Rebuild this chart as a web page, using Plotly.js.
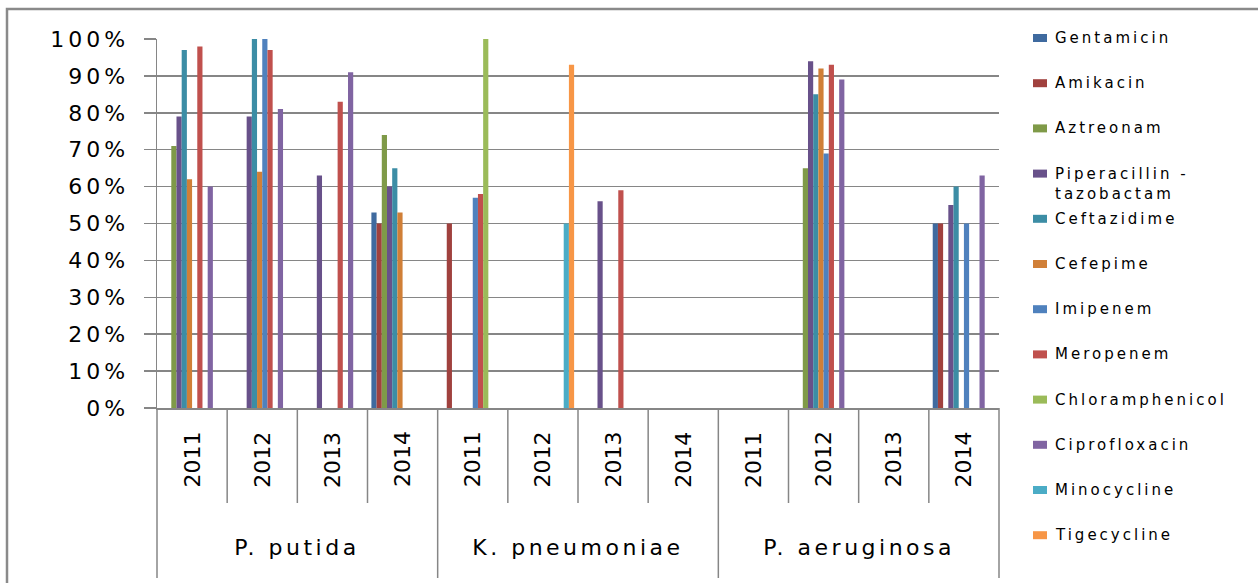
<!DOCTYPE html>
<html>
<head>
<meta charset="utf-8">
<script src="https://cdn.plot.ly/plotly-3.0.1.min.js"></script>
<style>
  html, body { margin: 0; padding: 0; background: #ffffff; }
  #chart { width: 1258px; height: 583px; }
  .ytick text { letter-spacing: 4px; }
</style>
</head>
<body>
<div id="chart"></div>
<script>
// ---- data ----
const species = ["P. putida","P. putida","P. putida","P. putida",
                 "K. pneumoniae","K. pneumoniae","K. pneumoniae","K. pneumoniae",
                 "P. aeruginosa","P. aeruginosa","P. aeruginosa","P. aeruginosa"];
const years = ["2011","2012","2013","2014","2011","2012","2013","2014","2011","2012","2013","2014"];

const seriesNames = ["Gentamicin","Amikacin","Aztreonam","Piperacillin -<br>tazobactam",
  "Ceftazidime","Cefepime","Imipenem","Meropenem","Chloramphenicol",
  "Ciprofloxacin","Minocycline","Tigecycline"];

const gentamicin      = [null,null,null,53,  null,null,null,null, null,null,null,50];
const amikacin        = [null,null,null,50,  50,null,null,null,   null,null,null,50];
const aztreonam       = [71,null,null,74,    null,null,null,null, null,65,null,null];
const piperacillin    = [79,79,63,60,        null,null,56,null,   null,94,null,55];
const ceftazidime     = [97,100,null,65,     null,null,null,null, null,85,null,60];
const cefepime        = [62,64,null,53,      null,null,null,null, null,92,null,null];
const imipenem        = [null,100,null,null, 57,null,null,null,   null,69,null,50];
const meropenem       = [98,97,83,null,      58,null,59,null,     null,93,null,null];
const chloramphenicol = [null,null,null,null,100,null,null,null,  null,null,null,null];
const ciprofloxacin   = [60,81,91,null,      null,null,null,null, null,89,null,63];
const minocycline     = [null,null,null,null,null,50,null,null,   null,null,null,null];
const tigecycline     = [null,null,null,null,null,93,null,null,   null,null,null,null];

const seriesValues = [gentamicin, amikacin, aztreonam, piperacillin, ceftazidime, cefepime,
  imipenem, meropenem, chloramphenicol, ciprofloxacin, minocycline, tigecycline];

const colors = ["#3F6A9F","#A0413E","#7F9A48","#68518A","#3C8DA5","#D07F37",
  "#4F81BD","#C0504D","#9BBB59","#8064A2","#4BACC6","#F79646"];

// ---- geometry (pixels) ----
const W = 1258, H = 583;
const L = 157, R = 999, T = 39, B = 408;
const pw = R - L, ph = B - T;
const px2x = p => (p - L) / pw;
const px2y = p => (B - p) / ph;

const traces = seriesNames.map((nm, i) => ({
  type: "bar",
  name: nm.replace("<br>", " "),
  x: [species, years],
  y: seriesValues[i],
  marker: { color: colors[i], line: { width: 0 } },
  showlegend: false,
  hoverinfo: "x+y+name"
}));

const grey = "#868686";
const shapes = [];
const annotations = [];
const spacing = [];

// outer chart border
shapes.push({ type: "rect", xref: "paper", yref: "paper",
  x0: px2x(7), x1: px2x(1264), y0: px2y(590), y1: px2y(9),
  line: { color: "#8a8a8a", width: 2.5 }, fillcolor: "rgba(0,0,0,0)", layer: "below" });

// category boundary ticks (inner level) and group dividers
const n = years.length;
for (let i = 0; i <= n; i++) {
  const isGroup = (i === 0 || i === n || species[i] !== species[i - 1]);
  shapes.push({ type: "line", xref: "paper", yref: "paper",
    x0: i / n, x1: i / n, y0: 0, y1: px2y(isGroup ? 578 : 503),
    line: { color: grey, width: 1.5 } });
}

// axis category labels (years rotated, species below)
years.forEach((yr, i) => {
  annotations.push({ xref: "paper", yref: "paper", x: (i + 0.5) / n, y: px2y(459.5),
    xanchor: "center", yanchor: "middle", textangle: -90, showarrow: false,
    text: yr, font: { family: "DejaVu Sans", size: 22, color: "#000" } });
  spacing.push(0);
});
let start = 0;
for (let i = 1; i <= n; i++) {
  if (i === n || species[i] !== species[i - 1]) {
    annotations.push({ xref: "paper", yref: "paper", x: (start + i) / 2 / n, y: px2y(547),
      xanchor: "center", yanchor: "middle", showarrow: false,
      text: species[start], font: { family: "DejaVu Sans", size: 22, color: "#000" } });
    spacing.push(3.5);
    start = i;
  }
}

// legend (manual, to match spacing)
seriesNames.forEach((nm, i) => {
  const yc = 38 + 45.2 * i;
  shapes.push({ type: "rect", xref: "paper", yref: "paper",
    x0: px2x(1033), x1: px2x(1047), y0: px2y(yc + 4), y1: px2y(yc - 4),
    line: { width: 0 }, fillcolor: colors[i] });
  const lines = nm.split("<br>").length;
  annotations.push({ xref: "paper", yref: "paper", x: px2x(1053), y: px2y(yc),
    xanchor: "left", yanchor: "middle", align: "left", showarrow: false,
    yshift: -(lines - 1) * 10.5,
    text: nm, font: { family: "DejaVu Sans", size: 15, color: "#000" } });
  spacing.push(3);
});

const layout = {
  width: W, height: H,
  margin: { l: L, r: W - R, t: T, b: H - B, pad: 0 },
  paper_bgcolor: "#ffffff", plot_bgcolor: "#ffffff",
  barmode: "group", bargap: 0.111, bargroupgap: 0,
  showlegend: false,
  font: { family: "DejaVu Sans", color: "#000" },
  xaxis: {
    type: "multicategory",
    showline: true, linecolor: grey, linewidth: 1.5,
    ticks: "", showdividers: false, showgrid: false,
    showticklabels: false,
    fixedrange: true
  },
  yaxis: {
    range: [0, 100], dtick: 10, ticksuffix: "%",
    showline: true, linecolor: grey, linewidth: 1.5,
    showgrid: true, gridcolor: grey, gridwidth: 1.5,
    ticks: "outside", ticklen: 12, tickcolor: grey, tickwidth: 1.5,
    ticklabelstandoff: 10,
    tickfont: { family: "DejaVu Sans", size: 22, color: "#000" },
    zeroline: false, fixedrange: true
  },
  shapes: shapes,
  annotations: annotations
};

Plotly.newPlot("chart", traces, layout, { displayModeBar: false, staticPlot: true }).then(gd => {
  const texts = gd.querySelectorAll(".annotation .annotation-text");
  texts.forEach((t, i) => { if (spacing[i]) t.style.letterSpacing = spacing[i] + "px"; });
});
</script>
</body>
</html>
